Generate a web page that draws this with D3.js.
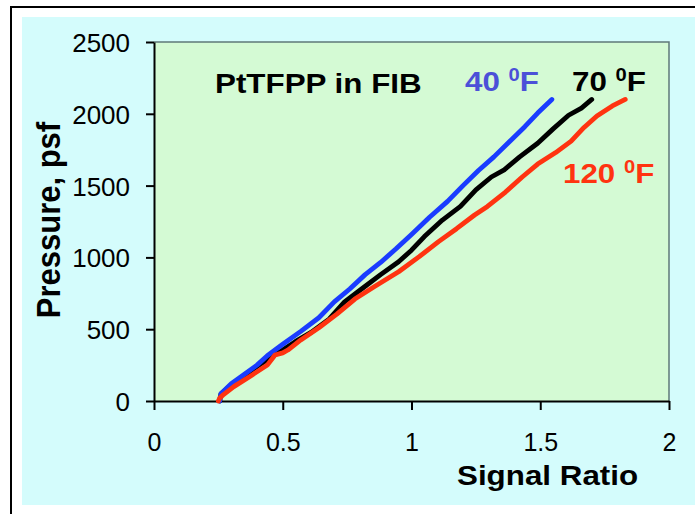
<!DOCTYPE html>
<html><head><meta charset="utf-8">
<script src="https://cdn.jsdelivr.net/npm/d3@7"></script>
<style>
html,body{margin:0;padding:0;background:#fff;}
svg{display:block;font-family:"Liberation Sans",Arial,sans-serif;}
</style></head>
<body>
<script>
// ---- data ----
const xTicks = [0, 0.5, 1, 1.5, 2];
const yTicks = [0, 500, 1000, 1500, 2000, 2500];
const xTickLabels = ["0", "0.5", "1", "1.5", "2"];
const yTickLabels = ["0", "500", "1000", "1500", "2000", "2500"];

const series40x = [0.255,0.26,0.30,0.35,0.40,0.44,0.50,0.57,0.64,0.70,0.76,0.82,0.88,0.94,1.00,1.07,1.14,1.20,1.26,1.32,1.38,1.44,1.49,1.545];
const series40y = [0,50,120,185,250,315,395,485,580,690,780,880,965,1060,1160,1280,1390,1500,1605,1700,1805,1910,2005,2100];

const series70x = [0.255,0.26,0.30,0.35,0.40,0.45,0.50,0.55,0.61,0.68,0.74,0.81,0.88,0.95,1.00,1.05,1.12,1.19,1.25,1.31,1.36,1.42,1.49,1.55,1.61,1.66,1.70];
const series70y = [0,50,112,178,240,300,355,415,478,570,690,785,880,970,1050,1145,1260,1355,1470,1560,1610,1700,1795,1895,1990,2040,2100];

const series120x = [0.25,0.255,0.27,0.31,0.38,0.44,0.47,0.50,0.52,0.57,0.64,0.71,0.78,0.855,0.95,1.03,1.105,1.175,1.245,1.295,1.365,1.43,1.49,1.56,1.62,1.67,1.72,1.78,1.83];
const series120y = [0,20,45,100,180,250,320,335,355,425,510,605,710,795,900,1005,1110,1200,1295,1355,1455,1560,1650,1730,1810,1905,1985,2055,2100];

const seriesNames = ["40", "70", "120"];

// ---- layout ----
const W = 695, H = 514;
const svg = d3.select("body").append("svg").attr("width", W).attr("height", H);

// outer frame
svg.append("rect").attr("x",0).attr("y",0).attr("width",W).attr("height",H).attr("fill","#fff");
svg.append("rect").attr("x",22).attr("y",17).attr("width",W-22).attr("height",488).attr("fill","#d4fcfc");
svg.append("line").attr("x1",10).attr("x2",W).attr("y1",7).attr("y2",7).attr("stroke","#000").attr("stroke-width",2);
svg.append("line").attr("x1",11).attr("x2",11).attr("y1",6).attr("y2",H).attr("stroke","#000").attr("stroke-width",2);

const x = d3.scaleLinear().domain([0,2]).range([154,669]);
const y = d3.scaleLinear().domain([0,2500]).range([401,42]);

// plot area
svg.append("rect").attr("x",x(0)).attr("y",y(2500)).attr("width",x(2)-x(0)).attr("height",y(0)-y(2500))
  .attr("fill","#d4fad4");
svg.append("path").attr("d",`M${x(0)},${y(2500)}H${x(2)}V${y(0)}`).attr("fill","none")
  .attr("stroke","#5f7878").attr("stroke-width",1.5);

// axes
const sxTick = 1.04;
const yAxis = d3.axisLeft(y).tickValues(yTicks).tickSize(8).tickSizeOuter(0)
  .tickFormat((d,i)=>yTickLabels[i]);
const gy = svg.append("g").attr("transform",`translate(${x(0)},0)`).call(yAxis);
gy.select(".domain").attr("stroke","#000").attr("stroke-width",2);
gy.selectAll(".tick line").attr("stroke","#000").attr("stroke-width",2);
gy.selectAll(".tick text").attr("x",-24/sxTick).attr("dy","0.38em").attr("text-anchor","end")
  .attr("transform",`scale(${sxTick},1)`).attr("font-size",25).attr("fill","#000")
  .attr("font-family","'Liberation Sans',Arial,sans-serif");

const xAxis = d3.axisBottom(x).tickValues(xTicks).tickSize(9).tickSizeOuter(0)
  .tickFormat((d,i)=>xTickLabels[i]);
const gx = svg.append("g").attr("transform",`translate(0,${y(0)})`).call(xAxis);
gx.select(".domain").attr("stroke","#000").attr("stroke-width",2);
gx.selectAll(".tick line").attr("stroke","#000").attr("stroke-width",2);
gx.selectAll(".tick text").attr("y",50).attr("dy",0).attr("font-size",25).attr("fill","#000")
  .attr("font-family","'Liberation Sans',Arial,sans-serif");

// lines
const line = d3.line().x(d=>x(d[0])).y(d=>y(d[1])).curve(d3.curveLinear);
const mk = (xs,ys)=>xs.map((v,i)=>[v,ys[i]]);
const drawOrder = [
  {data: mk(series70x, series70y), color:"#000000"},
  {data: mk(series40x, series40y), color:"#1a3cff"},
  {data: mk(series120x, series120y), color:"#ff3310"}
];
drawOrder.forEach(s=>{
  svg.append("path").datum(s.data).attr("d",line).attr("fill","none")
    .attr("stroke",s.color).attr("stroke-width",4.8)
    .attr("stroke-linejoin","round").attr("stroke-linecap","round");
});

// texts
const SX = 1.12;
function stext(px, py, size, color, sx, anchor){
  return svg.append("text").attr("transform",`translate(${px},${py}) scale(${sx},1)`)
    .attr("font-size",size).attr("font-weight","bold").attr("fill",color)
    .attr("text-anchor",anchor||"start");
}
stext(215, 93, 28, "#000", SX).text("PtTFPP in FIB");

function tempLabel(px, py, name, color){
  const t = stext(px, py, 28, color, SX);
  t.append("tspan").text(name + " ");
  t.append("tspan").attr("font-size",18).attr("dy",-10).text("0");
  t.append("tspan").attr("dy",10).text("F");
}
tempLabel(465, 91, seriesNames[0], "#4b50d8");
tempLabel(572, 91, seriesNames[1], "#000");
tempLabel(563, 183, seriesNames[2], "#ff3310");

stext(457, 485, 28, "#000", SX).text("Signal Ratio");

svg.append("text").attr("transform",`translate(60,220) scale(1.08,1) rotate(-90)`)
  .attr("font-size",31).attr("font-weight","bold").attr("fill","#000")
  .attr("text-anchor","middle").text("Pressure, psf");
</script>
</body></html>
